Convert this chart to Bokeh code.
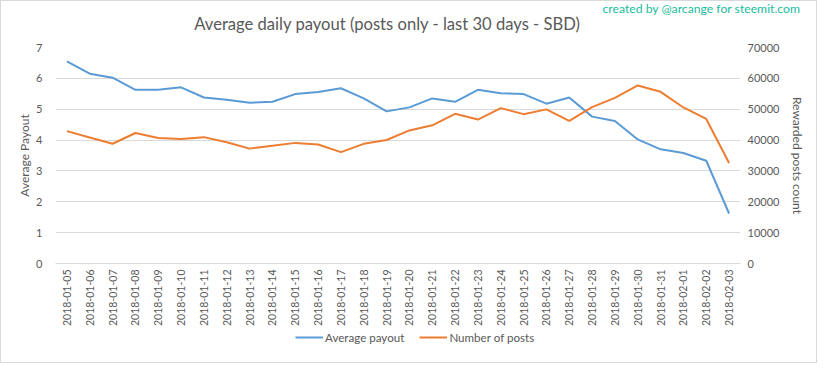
from bokeh.plotting import figure
from bokeh.layouts import column
from bokeh.models import Range1d, LinearAxis, Legend, LegendItem, Title, Label, FactorRange, FixedTicker
from bokeh.embed import file_html
from bokeh.resources import INLINE

dates = ["2018-01-05", "2018-01-06", "2018-01-07", "2018-01-08", "2018-01-09", "2018-01-10",
         "2018-01-11", "2018-01-12", "2018-01-13", "2018-01-14", "2018-01-15", "2018-01-16",
         "2018-01-17", "2018-01-18", "2018-01-19", "2018-01-20", "2018-01-21", "2018-01-22",
         "2018-01-23", "2018-01-24", "2018-01-25", "2018-01-26", "2018-01-27", "2018-01-28",
         "2018-01-29", "2018-01-30", "2018-01-31", "2018-02-01", "2018-02-02", "2018-02-03"]

avg_payout = [6.55, 6.15, 6.02, 5.63, 5.63, 5.71, 5.38, 5.31, 5.21, 5.24, 5.49, 5.56,
              5.68, 5.35, 4.93, 5.06, 5.35, 5.24, 5.63, 5.52, 5.49, 5.18, 5.38, 4.76,
              4.62, 4.02, 3.70, 3.58, 3.33, 1.62]

num_posts = [42900, 40850, 38800, 42300, 40640, 40330, 40950, 39300, 37230, 38160, 39090, 38570,
             36090, 38780, 40020, 43120, 44780, 48500, 46640, 50360, 48400, 49950, 46230, 50670,
             53670, 57700, 55640, 50570, 46850, 32570]

left_ticks = [0, 1, 2, 3, 4, 5, 6, 7]
right_ticks = [0, 10000, 20000, 30000, 40000, 50000, 60000, 70000]
series_names = ["Average payout", "Number of posts"]
title_text = "Average daily payout (posts only - last 30 days - SBD)"
credit_text = "created by @arcange for steemit.com"

FONT = "Lato"
TXT = "#595959"
GRID = "#D9D9D9"
BLUE = "#5B9BD5"
ORANGE = "#ED7D31"
W = 815

# ---- top strip: credit (title panel) and chart title (label in frame) ----
pt = figure(width=W, height=32, x_range=Range1d(0, 1), y_range=Range1d(0, 1),
            output_backend="svg", toolbar_location=None, min_border=0,
            x_axis_location=None, y_axis_location=None)
pt.grid.visible = False
pt.outline_line_color = None
pt.title.text = credit_text
pt.title.align = "right"
pt.title.offset = -60
pt.title.standoff = -6
pt.title.text_font = FONT
pt.title.text_font_size = "12.2px"
pt.title.text_font_style = "normal"
pt.title.text_color = "#1ABC9C"
pt.add_layout(Label(x=332, y=9.5, x_units="screen", y_units="screen", text=title_text,
                    text_align="center", text_baseline="middle", text_font=FONT,
                    text_font_size="16.6px", text_color=TXT))

# ---- main chart ----
p = figure(width=W, height=296, x_range=FactorRange(*dates), y_range=Range1d(0, 7),
           output_backend="svg", toolbar_location=None,
           min_border_left=54, min_border_right=76, min_border_top=14, min_border_bottom=66)
p.outline_line_color = None
p.background_fill_color = "white"
p.border_fill_color = "white"
p.extra_y_ranges = {"posts": Range1d(0, 70000)}

p.xgrid.grid_line_color = None
p.ygrid.grid_line_color = GRID
p.ygrid.ticker = FixedTicker(ticks=left_ticks)

ya = p.yaxis[0]
ya.ticker = FixedTicker(ticks=left_ticks)
ya.axis_label = "Average Payout"
ya.axis_line_color = None
ya.major_tick_line_color = None
ya.minor_tick_line_color = None
ya.major_tick_out = 0
ya.major_tick_in = 0
ya.minor_tick_out = 0
ya.major_label_text_font = FONT
ya.major_label_text_font_size = "11px"
ya.major_label_text_color = TXT
ya.major_label_standoff = 13
ya.axis_label_text_font = FONT
ya.axis_label_text_font_size = "12px"
ya.axis_label_text_font_style = "normal"
ya.axis_label_text_color = TXT
ya.axis_label_standoff = 1

ra = LinearAxis(y_range_name="posts", ticker=FixedTicker(ticks=right_ticks),
                axis_label="Rewarded posts count")
ra.axis_line_color = None
ra.major_tick_line_color = None
ra.minor_tick_line_color = None
ra.major_tick_out = 0
ra.major_tick_in = 0
ra.minor_tick_out = 0
ra.major_label_text_font = FONT
ra.major_label_text_font_size = "11px"
ra.major_label_text_color = TXT
ra.major_label_standoff = 7
ra.axis_label_text_font = FONT
ra.axis_label_text_font_size = "12px"
ra.axis_label_text_font_style = "normal"
ra.axis_label_text_color = TXT
ra.axis_label_standoff = 8
p.add_layout(ra, "right")

xa = p.xaxis[0]
xa.axis_line_color = GRID
xa.major_tick_line_color = None
xa.minor_tick_line_color = None
xa.major_tick_out = 0
xa.major_tick_in = 0
xa.major_label_orientation = 3.14159265 / 2
xa.major_label_text_font = FONT
xa.major_label_text_font_size = "10.5px"
xa.major_label_text_color = TXT
xa.major_label_standoff = 6

p.line(dates, avg_payout, line_color=BLUE, line_width=2)
p.line(dates, num_posts, line_color=ORANGE, line_width=2, y_range_name="posts")

# ---- legend strip (series drawn off-range, only their legend keys show) ----
pl = figure(width=W, height=33, x_range=FactorRange(*dates), y_range=Range1d(1e6, 1e6 + 1),
            output_backend="svg", toolbar_location=None, min_border=0,
            x_axis_location=None, y_axis_location=None)
pl.grid.visible = False
pl.outline_line_color = None
l1 = pl.line(dates, avg_payout, line_color=BLUE, line_width=2)
l2 = pl.line(dates, num_posts, line_color=ORANGE, line_width=2)
legend = Legend(items=[LegendItem(label=series_names[0], renderers=[l1]),
                       LegendItem(label=series_names[1], renderers=[l2])],
                location=(240, 17), orientation="horizontal",
                padding=0, margin=0, spacing=15, glyph_width=28, glyph_height=16,
                label_standoff=2, label_text_font=FONT, label_text_font_size="11.6px",
                label_text_color=TXT, border_line_color=None, background_fill_alpha=0)
pl.add_layout(legend, "center")

layout = column(pt, p, pl, spacing=0)
layout.styles = {"border": "1px solid #D9D9D9"}

open("out.html", "w").write(file_html(layout, INLINE))
